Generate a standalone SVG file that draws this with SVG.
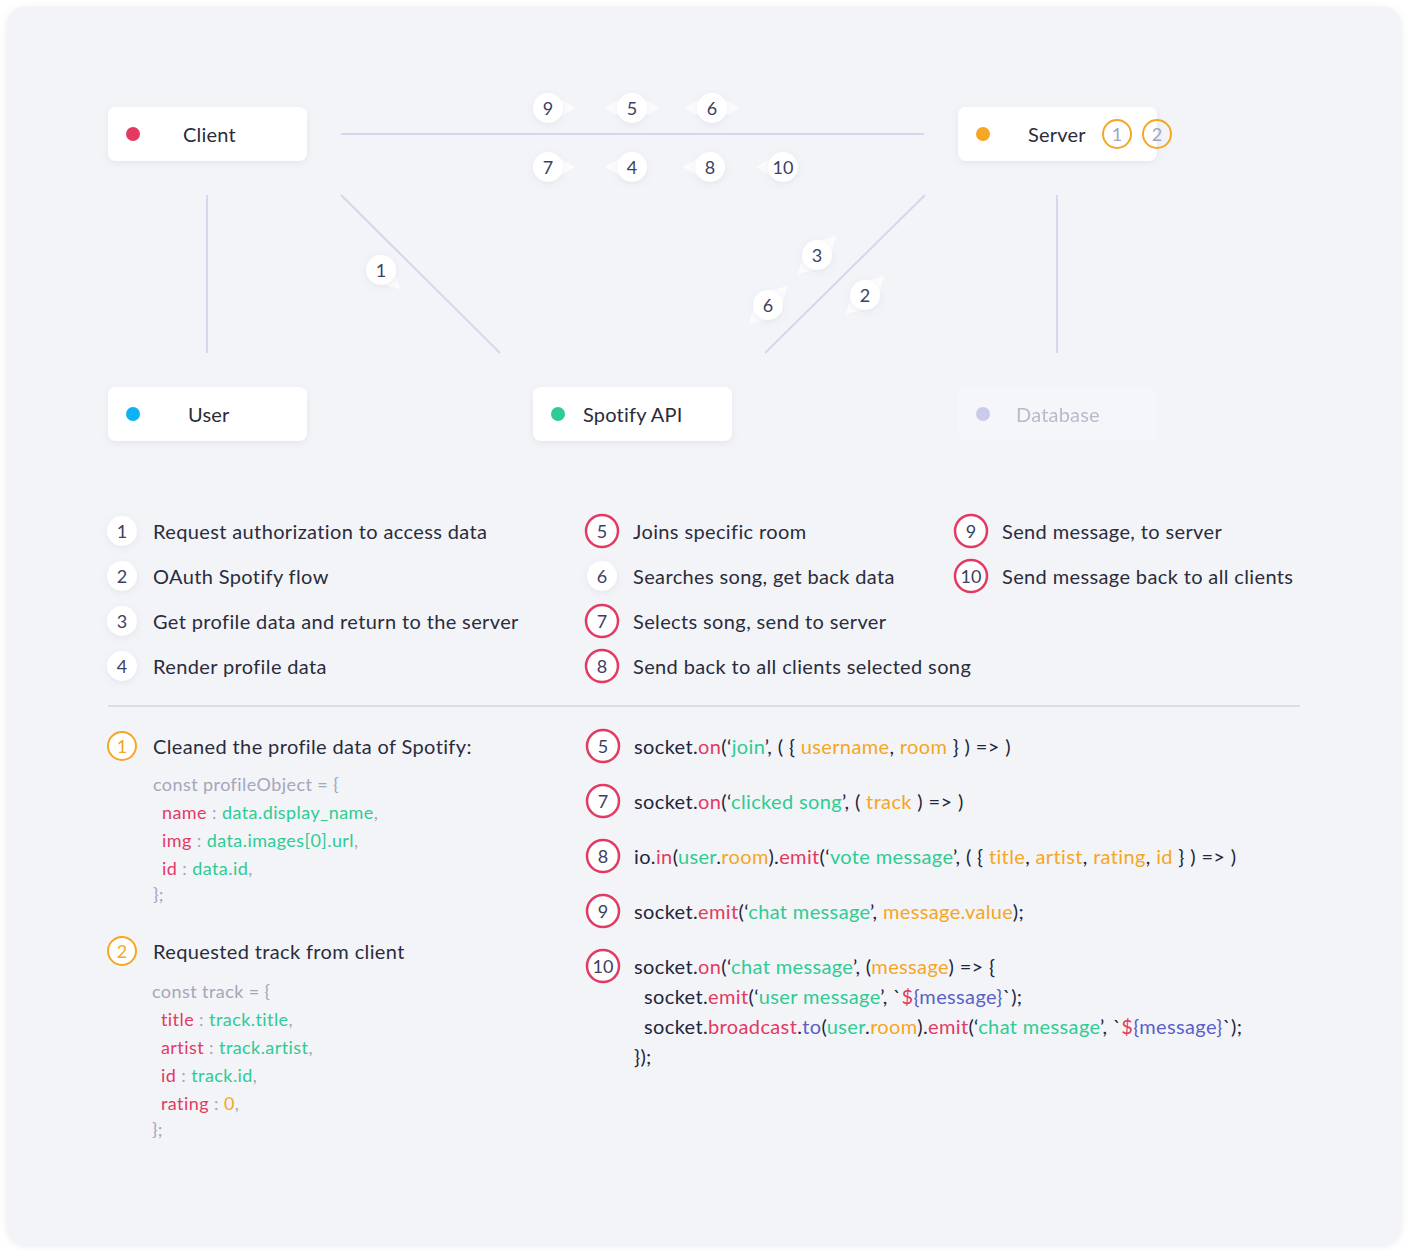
<svg xmlns="http://www.w3.org/2000/svg" xmlns:xlink="http://www.w3.org/1999/xlink" width="1408" height="1251" viewBox="0 0 1408 1251">
<defs>
<filter id="sh" x="-30%" y="-30%" width="160%" height="160%">
<feDropShadow dx="0" dy="2" stdDeviation="3" flood-color="#7c82ad" flood-opacity="0.13"/>
</filter>
<filter id="cardsh" x="-5%" y="-5%" width="110%" height="110%">
<feDropShadow dx="0" dy="1" stdDeviation="3" flood-color="#7c82ad" flood-opacity="0.18"/>
</filter>
<path id="ptr" d="M27,0 L6,-12 L6,12 Z"/>
</defs>
<style>
text{font-family:Lato,"Noto Sans","Liberation Sans",sans-serif}
.node{fill:#ffffff;filter:url(#sh)}
.nlabel{font-size:20px;fill:#2a2c3c;letter-spacing:0.2px}
.conn{stroke:#d5d7ec;stroke-width:2;fill:none}
.bc{fill:#ffffff;filter:url(#sh)}
.bp{fill:#ffffff;opacity:0.75}
.bt{font-size:18px;fill:#3d3f63;text-anchor:middle}
.lt{font-size:20px;fill:#2a2c3c;letter-spacing:0.37px}
.lc{fill:#ffffff;filter:url(#sh)}
.lcr{fill:#ffffff;stroke:#e23a63;stroke-width:2.5}
.lco{fill:#ffffff;stroke:#f5a623;stroke-width:2}
.cg{font-size:18px;fill:#a4a6bb;letter-spacing:0.42px}
.code{font-size:20px;fill:#23253a;letter-spacing:0.36px}
.r{fill:#e23a63}.g{fill:#2fcb93}.o{fill:#f5a623}.p{fill:#5b5fc7}
</style>
<rect x="0" y="0" width="1408" height="1251" fill="#ffffff"/>
<rect x="7" y="7" width="1394" height="1238" rx="18" fill="#f3f4f8" filter="url(#cardsh)"/>

<g id="connectors">
<line class="conn" x1="341" y1="134" x2="924" y2="134"/>
<line class="conn" x1="207" y1="195" x2="207" y2="353"/>
<line class="conn" x1="341" y1="195" x2="500" y2="353"/>
<line class="conn" x1="925" y1="195" x2="765" y2="353"/>
<line class="conn" x1="1057" y1="195" x2="1057" y2="353"/>
</g>

<g id="badges">
<g id="b9t"><use xlink:href="#ptr" class="bp" transform="translate(548,108)"/><circle class="bc" cx="548" cy="108" r="15"/><text class="bt" x="548" y="114.5">9</text></g>
<g id="b5t"><use xlink:href="#ptr" class="bp" transform="translate(632,108) rotate(180)"/><use xlink:href="#ptr" class="bp" transform="translate(632,108)"/><circle class="bc" cx="632" cy="108" r="15"/><text class="bt" x="632" y="114.5">5</text></g>
<g id="b6t"><use xlink:href="#ptr" class="bp" transform="translate(712,108) rotate(180)"/><use xlink:href="#ptr" class="bp" transform="translate(712,108)"/><circle class="bc" cx="712" cy="108" r="15"/><text class="bt" x="712" y="114.5">6</text></g>
<g id="b7b"><use xlink:href="#ptr" class="bp" transform="translate(548,167)"/><circle class="bc" cx="548" cy="167" r="15"/><text class="bt" x="548" y="173.5">7</text></g>
<g id="b4b"><use xlink:href="#ptr" class="bp" transform="translate(632,167) rotate(180)"/><circle class="bc" cx="632" cy="167" r="15"/><text class="bt" x="632" y="173.5">4</text></g>
<g id="b8b"><use xlink:href="#ptr" class="bp" transform="translate(710,167) rotate(180)"/><circle class="bc" cx="710" cy="167" r="15"/><text class="bt" x="710" y="173.5">8</text></g>
<g id="b10b"><use xlink:href="#ptr" class="bp" transform="translate(783,167) rotate(180)"/><circle class="bc" cx="783" cy="167" r="15"/><text class="bt" x="783" y="173.5">10</text></g>
<g id="b1d"><use xlink:href="#ptr" class="bp" transform="translate(381,270) rotate(45)"/><circle class="bc" cx="381" cy="270" r="15"/><text class="bt" x="381" y="276.5">1</text></g>
<g id="b3d"><use xlink:href="#ptr" class="bp" transform="translate(817,255) rotate(-45)"/><use xlink:href="#ptr" class="bp" transform="translate(817,255) rotate(135)"/><circle class="bc" cx="817" cy="255" r="15"/><text class="bt" x="817" y="261.5">3</text></g>
<g id="b6d"><use xlink:href="#ptr" class="bp" transform="translate(768,305) rotate(-45)"/><use xlink:href="#ptr" class="bp" transform="translate(768,305) rotate(135)"/><circle class="bc" cx="768" cy="305" r="15"/><text class="bt" x="768" y="311.5">6</text></g>
<g id="b2d"><use xlink:href="#ptr" class="bp" transform="translate(865,295) rotate(-45)"/><use xlink:href="#ptr" class="bp" transform="translate(865,295) rotate(135)"/><circle class="bc" cx="865" cy="295" r="15"/><text class="bt" x="865" y="301.5">2</text></g>
</g>

<g id="client"><rect class="node" x="108" y="107" width="199" height="54" rx="8"/><circle cx="133" cy="134" r="7" fill="#e23a63"/><text class="nlabel" x="183" y="141.5">Client</text></g>
<g id="server"><rect class="node" x="958" y="107" width="199" height="54" rx="8"/><circle cx="983" cy="134" r="7" fill="#f5a623"/><text class="nlabel" x="1028" y="141.5">Server</text>
<circle cx="1117" cy="134" r="14" fill="none" stroke="#f5a623" stroke-width="2"/><text x="1117" y="140.5" font-size="18" fill="#a0a3c2" text-anchor="middle">1</text>
<circle cx="1157" cy="134" r="14" fill="none" stroke="#f5a623" stroke-width="2"/><text x="1157" y="140.5" font-size="18" fill="#a0a3c2" text-anchor="middle">2</text></g>
<g id="user"><rect class="node" x="108" y="387" width="199" height="54" rx="8"/><circle cx="133" cy="414" r="7" fill="#0eb1f4"/><text class="nlabel" x="188" y="421.5">User</text></g>
<g id="spotify"><rect class="node" x="533" y="387" width="199" height="54" rx="8"/><circle cx="558" cy="414" r="7" fill="#2fcb93"/><text class="nlabel" x="583" y="421.5">Spotify API</text></g>
<g id="database" opacity="0.55"><rect x="958" y="387" width="199" height="54" rx="8" fill="#f8f8fc"/><circle cx="983" cy="414" r="7" fill="#a9abe0"/><text x="1016" y="421.5" font-size="20" fill="#8a8ca6" letter-spacing="0.2">Database</text></g>

<g id="legend">
<circle class="lc" cx="122" cy="531" r="15"/><text class="bt" x="122" y="537.5">1</text><text class="lt" x="153" y="539">Request authorization to access data</text>
<circle class="lc" cx="122" cy="576" r="15"/><text class="bt" x="122" y="582.5">2</text><text class="lt" x="153" y="584">OAuth Spotify flow</text>
<circle class="lc" cx="122" cy="621" r="15"/><text class="bt" x="122" y="627.5">3</text><text class="lt" x="153" y="629">Get profile data and return to the server</text>
<circle class="lc" cx="122" cy="666" r="15"/><text class="bt" x="122" y="672.5">4</text><text class="lt" x="153" y="674">Render profile data</text>

<circle class="lcr" cx="602" cy="531" r="16"/><text class="bt" x="602" y="537.5">5</text><text class="lt" x="633" y="539">Joins specific room</text>
<circle class="lc" cx="602" cy="576" r="15"/><text class="bt" x="602" y="582.5">6</text><text class="lt" x="633" y="584">Searches song, get back data</text>
<circle class="lcr" cx="602" cy="621" r="16"/><text class="bt" x="602" y="627.5">7</text><text class="lt" x="633" y="629">Selects song, send to server</text>
<circle class="lcr" cx="602" cy="666" r="16"/><text class="bt" x="602" y="672.5">8</text><text class="lt" x="633" y="674">Send back to all clients selected song</text>

<circle class="lcr" cx="971" cy="531" r="16"/><text class="bt" x="971" y="537.5">9</text><text class="lt" x="1002" y="539">Send message, to server</text>
<circle class="lcr" cx="971" cy="576" r="16"/><text class="bt" x="971" y="582.5">10</text><text class="lt" x="1002" y="584">Send message back to all clients</text>
</g>

<line x1="108" y1="706" x2="1300" y2="706" stroke="#dcdde9" stroke-width="2"/>

<g id="profile-object">
<circle class="lco" cx="122" cy="746" r="14"/><text x="122" y="752.5" font-size="18" fill="#f5a623" text-anchor="middle">1</text>
<text class="lt" x="153" y="754">Cleaned the profile data of Spotify:</text>
<text class="cg" x="153" y="791">const profileObject = {</text>
<text class="cg" x="162" y="819"><tspan class="r">name</tspan> : <tspan class="g">data.display_name</tspan>,</text>
<text class="cg" x="162" y="847"><tspan class="r">img</tspan> : <tspan class="g">data.images[0].url</tspan>,</text>
<text class="cg" x="162" y="875"><tspan class="r">id</tspan> : <tspan class="g">data.id</tspan>,</text>
<text class="cg" x="153" y="901">};</text>
</g>

<g id="track-object">
<circle class="lco" cx="122" cy="951" r="14"/><text x="122" y="957.5" font-size="18" fill="#f5a623" text-anchor="middle">2</text>
<text class="lt" x="153" y="959">Requested track from client</text>
<text class="cg" x="152" y="998">const track = {</text>
<text class="cg" x="161" y="1026"><tspan class="r">title</tspan> : <tspan class="g">track.title</tspan>,</text>
<text class="cg" x="161" y="1054"><tspan class="r">artist</tspan> : <tspan class="g">track.artist</tspan>,</text>
<text class="cg" x="161" y="1082"><tspan class="r">id</tspan> : <tspan class="g">track.id</tspan>,</text>
<text class="cg" x="161" y="1110"><tspan class="r">rating</tspan> : <tspan class="o">0</tspan>,</text>
<text class="cg" x="152" y="1136">};</text>
</g>

<g id="socket-code">
<circle class="lcr" cx="603" cy="746" r="16"/><text class="bt" x="603" y="752.5">5</text>
<text class="code" x="634" y="754">socket.<tspan class="r">on</tspan>(‘<tspan class="g">join</tspan>’, ( { <tspan class="o">username</tspan>, <tspan class="o">room</tspan> } ) =&gt; )</text>
<circle class="lcr" cx="603" cy="801" r="16"/><text class="bt" x="603" y="807.5">7</text>
<text class="code" x="634" y="809">socket.<tspan class="r">on</tspan>(‘<tspan class="g">clicked song</tspan>’, ( <tspan class="o">track</tspan> ) =&gt; )</text>
<circle class="lcr" cx="603" cy="856" r="16"/><text class="bt" x="603" y="862.5">8</text>
<text class="code" x="634" y="864">io.<tspan class="r">in</tspan>(<tspan class="g">user</tspan>.<tspan class="o">room</tspan>).<tspan class="r">emit</tspan>(‘<tspan class="g">vote message</tspan>’, ( { <tspan class="o">title</tspan>, <tspan class="o">artist</tspan>, <tspan class="o">rating</tspan>, <tspan class="o">id</tspan> } ) =&gt; )</text>
<circle class="lcr" cx="603" cy="911" r="16"/><text class="bt" x="603" y="917.5">9</text>
<text class="code" x="634" y="919">socket.<tspan class="r">emit</tspan>(‘<tspan class="g">chat message</tspan>’, <tspan class="o">message.value</tspan>);</text>
<circle class="lcr" cx="603" cy="966" r="16"/><text class="bt" x="603" y="972.5">10</text>
<text class="code" x="634" y="974">socket.<tspan class="r">on</tspan>(‘<tspan class="g">chat message</tspan>’, (<tspan class="o">message</tspan>) =&gt; {</text>
<text class="code" x="644" y="1004">socket.<tspan class="r">emit</tspan>(‘<tspan class="g">user message</tspan>’, `<tspan class="r">$</tspan><tspan class="p">{message}</tspan>`);</text>
<text class="code" x="644" y="1034">socket.<tspan class="r">broadcast</tspan>.<tspan class="p">to</tspan>(<tspan class="g">user</tspan>.<tspan class="o">room</tspan>).<tspan class="r">emit</tspan>(‘<tspan class="g">chat message</tspan>’, `<tspan class="r">$</tspan><tspan class="p">{message}</tspan>`);</text>
<text class="code" x="634" y="1064">});</text>
</g>
</svg>
